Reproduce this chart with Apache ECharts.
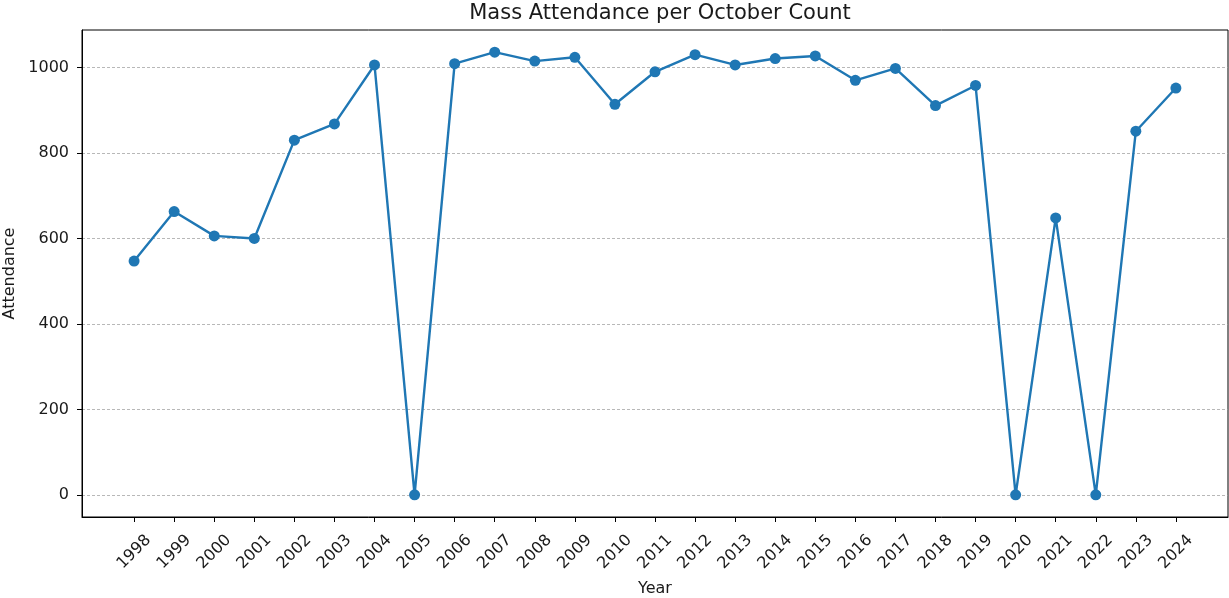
<!DOCTYPE html>
<html>
<head>
<meta charset="utf-8">
<title>Mass Attendance per October Count</title>
<script src="https://cdn.jsdelivr.net/npm/echarts@6/dist/echarts.min.js"></script>
<style>
  html, body { margin: 0; padding: 0; background: #fff; }
  #chart { width: 1229px; height: 598px; }
</style>
</head>
<body>
<div id="chart"></div>
<script>
// data
const years = [1998, 1999, 2000, 2001, 2002, 2003, 2004, 2005, 2006, 2007, 2008, 2009, 2010,
  2011, 2012, 2013, 2014, 2015, 2016, 2017, 2018, 2019, 2020, 2021, 2022, 2023, 2024]
const attendance = [547, 663, 606, 600, 830, 868, 1006, 0, 1009, 1036, 1015, 1024, 914,
  990, 1030, 1006, 1021, 1027, 970, 998, 911, 958, 0, 648, 0, 851, 952]
const yTicks = [0, 200, 400, 600, 800, 1000]

const font = 'DejaVu Sans'
const textColor = '#1a1a1a'

// matplotlib style 5% margins around the data
const xMin = years[0] - 0.05 * (years[years.length - 1] - years[0])
const xMax = years[years.length - 1] + 0.05 * (years[years.length - 1] - years[0])
const yTop = Math.max(...attendance)
const yMin = -0.05 * yTop
const yMax = yTop * 1.05

const points = years.map((y, i) => [y, attendance[i]])

const myChart = echarts.init(document.getElementById('chart'), null, { renderer: 'canvas' })

const option = {
  animation: false,
  backgroundColor: '#fff',
  title: {
    text: 'Mass Attendance per October Count',
    left: 655,
    textAlign: 'center',
    top: -2,
    textStyle: { fontFamily: font, fontSize: 21, fontWeight: 'normal', color: textColor }
  },
  grid: {
    left: 82,
    right: 1,
    top: 30,
    bottom: 81,
    containLabel: false,
    outerBoundsMode: 'none',
    show: true,
    borderColor: '#000',
    borderWidth: 1
  },
  xAxis: {
    type: 'value',
    min: xMin,
    max: xMax,
    name: 'Year',
    nameLocation: 'middle',
    nameGap: 64,
    nameTextStyle: { fontFamily: font, fontSize: 16, color: textColor },
    axisLine: { show: true, onZero: false, lineStyle: { color: '#000', width: 1 } },
    axisTick: { show: true, length: 5, customValues: years, lineStyle: { color: '#000' } },
    axisLabel: {
      customValues: years,
      rotate: 45,
      align: 'center',
      verticalAlign: 'middle',
      margin: 35,
      fontFamily: font,
      fontSize: 16,
      color: textColor,
      formatter: (v) => String(Math.round(v))
    },
    splitLine: { show: false }
  },
  yAxis: {
    type: 'value',
    min: yMin,
    max: yMax,
    name: 'Attendance',
    nameLocation: 'middle',
    nameGap: 64,
    nameRotate: 90,
    nameTextStyle: { fontFamily: font, fontSize: 16, color: textColor },
    axisLine: { show: true, onZero: false, lineStyle: { color: '#000', width: 1 } },
    axisTick: { show: true, length: 5, customValues: yTicks, lineStyle: { color: '#000' } },
    axisLabel: {
      customValues: yTicks,
      margin: 13,
      fontFamily: font,
      fontSize: 16,
      color: textColor,
      formatter: (v) => String(Math.round(v))
    },
    splitLine: {
      show: true,
      lineStyle: { color: '#9a9a9a', width: 0.7, type: [3, 2] }
    }
  },
  series: [
    {
      name: 'Attendance',
      type: 'line',
      data: points,
      symbol: 'circle',
      symbolSize: 11,
      showAllSymbol: true,
      itemStyle: { color: '#1f77b4' },
      lineStyle: { color: '#1f77b4', width: 2.4 }
    }
  ]
}

myChart.setOption(option)
window.addEventListener('resize', () => myChart.resize())
</script>
</body>
</html>
